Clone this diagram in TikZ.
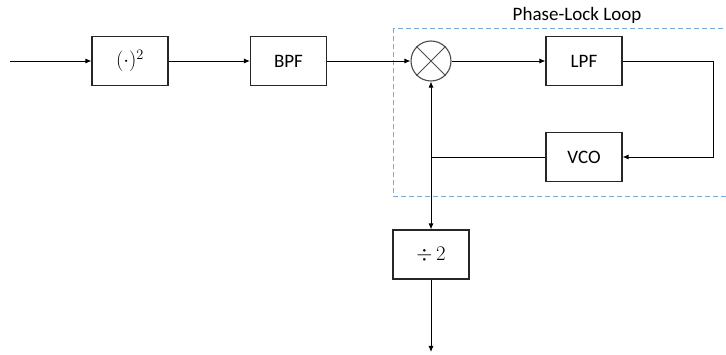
\documentclass[tikz,border=0pt]{standalone}
\usepackage{fontspec}
\setmainfont{Carlito}
\usetikzlibrary{arrows.meta,calc}
\definecolor{pllblue}{RGB}{91,155,213}
\begin{document}
\begin{tikzpicture}[x=1pt,y=-1pt,
  blk/.style={draw=black!85,line width=1.1pt,minimum width=76pt,minimum height=49pt,inner sep=0pt,font=\fontsize{19}{22}\selectfont},
  sig/.style={line width=0.9pt,-{Latex[length=6pt,width=5pt]}},
  wire/.style={line width=0.9pt},
  loopframe/.style={color=pllblue!85,line width=0.9pt,dash pattern=on 5pt off 3pt}]
\useasboundingbox (0,0) rectangle (726,355);
% phase-lock loop frame
\draw[loopframe] (393,28) rectangle (730,196);
\node[font=\fontsize{19}{22}\selectfont] (plltxt) at (577,15) {Phase-Lock Loop};
% blocks
\node[blk,font=\fontsize{22}{24}\selectfont] (sq) at (130,61) {$(\cdot)^2$};
\node[blk] (bpf) at (288.5,61) {BPF};
\node[draw=black!70,line width=1.1pt,circle,minimum size=40pt,inner sep=0pt] (mix) at (431,61) {};
\draw[black!70,line width=1pt] (mix.north west) -- (mix.south east) (mix.north east) -- (mix.south west);
\node[blk] (lpf) at (584,61) {LPF};
\node[blk] (vco) at (584,157) {VCO};
\node[blk,font=\fontsize{20}{22}\selectfont] (div) at (431,254.5) {$\div\,2$};
\coordinate (in) at (10,61);
\coordinate (out) at (431,352);
\coordinate (corner1) at (713,61);
\coordinate (corner2) at (713,157);
\coordinate (tap) at (431,157);
% connectors
\draw[sig] (in) -- (sq);
\draw[sig] (sq) -- (bpf);
\draw[sig] (bpf) -- (mix);
\draw[sig] (mix) -- (lpf);
\draw[sig] (lpf.east) -- (corner1) -- (corner2) -- (vco.east);
\draw[wire] (vco.west) -- (tap);
\draw[sig] (tap) -- (mix.south);
\draw[sig] (tap) -- (div.north);
\draw[sig] (div.south) -- (out);
\end{tikzpicture}
\end{document}
